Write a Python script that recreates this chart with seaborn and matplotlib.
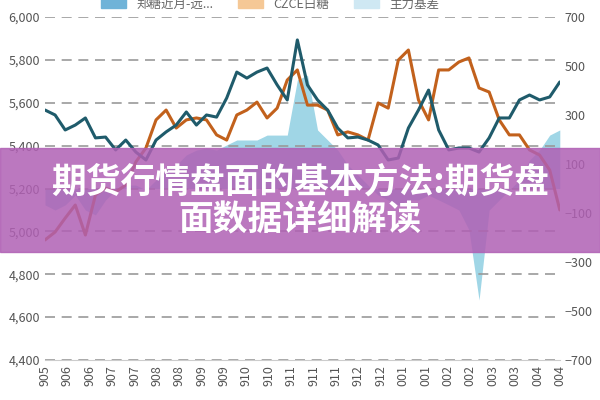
import matplotlib
matplotlib.use("Agg")
import matplotlib.pyplot as plt
import numpy as np
import seaborn as sns
from matplotlib.patches import Rectangle

# Values (52 samples across the period)
price_a = [5566, 5543, 5473, 5496, 5529, 5436, 5440, 5380, 5426, 5370, 5333, 5426, 5464,
           5496, 5557, 5496, 5543, 5533, 5622, 5743, 5715, 5743, 5762, 5683, 5613, 5893,
           5683, 5613, 5566, 5482, 5436, 5440, 5426, 5403, 5333, 5342, 5482, 5566, 5659,
           5473, 5380, 5389, 5389, 5370, 5436, 5529, 5529, 5613, 5636, 5613, 5627, 5697]
price_b = [4960, 4997, 5062, 5123, 4983, 5170, 5202, 5184, 5216, 5324, 5389, 5520, 5566,
           5482, 5520, 5529, 5520, 5450, 5426, 5543, 5566, 5603, 5529, 5575, 5706, 5753,
           5589, 5589, 5566, 5450, 5464, 5450, 5426, 5599, 5575, 5799, 5846, 5613, 5520,
           5753, 5753, 5790, 5809, 5669, 5650, 5520, 5450, 5450, 5380, 5356, 5286, 5100]
basis = [-67, -88, -67, -27, -88, -108, -47, -6, 14, 14, -6, 35, 75, 96, 137, 157, 165,
         157, 178, 198, 198, 198, 218, 218, 218, 443, 463, 239, 198, 157, 96, 55, 14, -27,
         -47, -67, -47, -47, -27, -47, -67, -88, -169, -455, -88, -47, -6, 35, 116, 157,
         218, 239]
tick_labels = ["905", "906", "906", "907", "907", "908", "908", "909", "909", "910", "910",
               "911", "911", "911", "912", "912", "001", "001", "002", "002", "003", "003",
               "004", "004"]
legend_labels = ["郑糖近月-远...", "CZCE白糖", "主力基差"]

sns.set_style("white")
plt.rcParams['font.family'] = ['Noto Sans CJK SC', 'DejaVu Sans']

x = np.arange(len(price_a))
fig = plt.figure(figsize=(6, 4), dpi=100)
ax = fig.add_axes([0.075, 0.1, 0.858, 0.8575])
ax2 = ax.twinx()

ax2.fill_between(x, 0, basis, color="#8fcfe2", alpha=0.85, linewidth=0, zorder=1)
sns.lineplot(x=x, y=price_b, ax=ax, color="#c2611c", linewidth=2.2, zorder=3)
sns.lineplot(x=x, y=price_a, ax=ax, color="#1f5b6b", linewidth=2.2, zorder=4)
ax.set_zorder(ax2.get_zorder() + 1)
ax.patch.set_visible(False)

ax.set_ylim(4400, 6000)
ax.set_yticks(range(4400, 6001, 200))
ax.set_yticklabels([f"{v:,}" for v in range(4400, 6001, 200)])
ax2.set_ylim(-700, 700)
ax2.set_yticks(range(-700, 701, 200))
ax.set_xlim(0, len(x) - 1)
tpos = np.linspace(0, len(x) - 1, len(tick_labels))
ax.set_xticks(tpos)
ax.set_xticklabels(tick_labels, rotation=90)
ax.grid(axis="y", linestyle=(0, (6, 4)), color="#999999", linewidth=1.2)
for a in (ax, ax2):
    for s in a.spines.values():
        s.set_visible(False)
    a.tick_params(length=0, labelsize=9, colors="#555555")
ax.spines["bottom"].set_visible(True)
ax.spines["bottom"].set_color("#cccccc")

handles = [Rectangle((0, 0), 1, 1, color="#6fb3d8"),
           Rectangle((0, 0), 1, 1, color="#f5c896"),
           Rectangle((0, 0), 1, 1, color="#cfe8f3")]
fig.legend(handles, legend_labels, loc="center", bbox_to_anchor=(0.45, 0.99), ncol=3,
           frameon=False, fontsize=9, labelcolor="#666666")

fig.patches.append(Rectangle((0, 0.37), 1, 0.26, transform=fig.transFigure,
                             color="#b060b4", alpha=0.85, zorder=10))
fig.text(0.5, 0.545, "期货行情盘面的基本方法:期货盘", ha="center", va="center",
         color="white", fontsize=25, fontweight="bold", zorder=11)
fig.text(0.5, 0.45, "面数据详细解读", ha="center", va="center",
         color="white", fontsize=25, fontweight="bold", zorder=11)

fig.savefig("out.png", dpi=100)
